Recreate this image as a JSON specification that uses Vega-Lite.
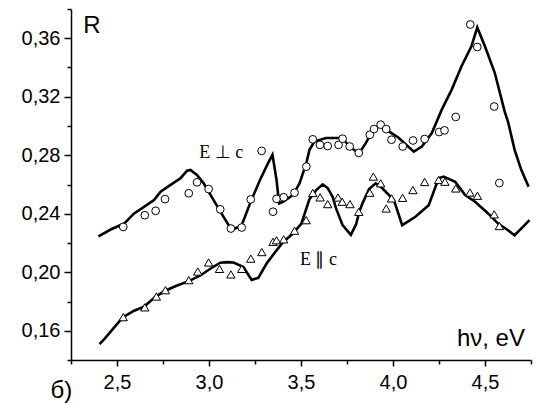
{
  "$schema": "https://vega.github.io/schema/vega-lite/v6.json",
  "width": 460,
  "height": 351,
  "autosize": {"type": "none"},
  "padding": {"left": 71, "top": 9, "right": 11, "bottom": 43},
  "background": "white",
  "config": {"view": {"stroke": null}},
  "datasets": {
    "perp_line": [
      {"x":2.399,"y":0.2246},{"x":2.468,"y":0.2294},{"x":2.539,"y":0.2333},{"x":2.593,"y":0.2402},{"x":2.647,"y":0.2447},{"x":2.701,"y":0.2493},{"x":2.737,"y":0.2551},{"x":2.791,"y":0.2597},{"x":2.845,"y":0.2643},{"x":2.881,"y":0.2695},{"x":2.899,"y":0.2700},{"x":2.935,"y":0.2665},{"x":2.971,"y":0.2608},{"x":3.025,"y":0.2493},{"x":3.079,"y":0.2379},{"x":3.124,"y":0.2287},{"x":3.178,"y":0.2322},{"x":3.223,"y":0.2471},{"x":3.277,"y":0.2631},{"x":3.321,"y":0.2746},{"x":3.345,"y":0.2803},{"x":3.367,"y":0.2631},{"x":3.381,"y":0.2471},{"x":3.402,"y":0.2482},{"x":3.456,"y":0.2528},{"x":3.492,"y":0.2608},{"x":3.529,"y":0.2746},{"x":3.546,"y":0.2837},{"x":3.573,"y":0.2894},{"x":3.636,"y":0.2918},{"x":3.726,"y":0.2918},{"x":3.762,"y":0.2860},{"x":3.816,"y":0.2814},{"x":3.852,"y":0.2883},{"x":3.897,"y":0.2986},{"x":3.933,"y":0.3009},{"x":3.978,"y":0.2963},{"x":4.032,"y":0.2918},{"x":4.113,"y":0.2825},{"x":4.157,"y":0.2860},{"x":4.211,"y":0.2952},{"x":4.265,"y":0.3112},{"x":4.319,"y":0.3249},{"x":4.373,"y":0.3410},{"x":4.427,"y":0.3547},{"x":4.458,"y":0.3674},{"x":4.499,"y":0.3547},{"x":4.553,"y":0.3364},{"x":4.607,"y":0.3098},{"x":4.625,"y":0.3030},{"x":4.661,"y":0.2837},{"x":4.697,"y":0.2700},{"x":4.737,"y":0.2585}
    ],
    "par_line": [
      {"x":2.405,"y":0.1509},{"x":2.431,"y":0.1543},{"x":2.485,"y":0.1623},{"x":2.531,"y":0.1691},{"x":2.593,"y":0.1737},{"x":2.647,"y":0.1765},{"x":2.710,"y":0.1834},{"x":2.764,"y":0.1875},{"x":2.827,"y":0.1909},{"x":2.890,"y":0.1939},{"x":2.953,"y":0.1978},{"x":3.007,"y":0.2024},{"x":3.061,"y":0.2065},{"x":3.097,"y":0.2069},{"x":3.133,"y":0.2067},{"x":3.187,"y":0.2035},{"x":3.232,"y":0.1948},{"x":3.268,"y":0.1962},{"x":3.313,"y":0.2060},{"x":3.367,"y":0.2150},{"x":3.402,"y":0.2205},{"x":3.456,"y":0.2265},{"x":3.502,"y":0.2333},{"x":3.546,"y":0.2500},{"x":3.583,"y":0.2562},{"x":3.618,"y":0.2601},{"x":3.645,"y":0.2576},{"x":3.672,"y":0.2516},{"x":3.690,"y":0.2438},{"x":3.726,"y":0.2322},{"x":3.771,"y":0.2256},{"x":3.800,"y":0.2329},{"x":3.816,"y":0.2411},{"x":3.834,"y":0.2471},{"x":3.870,"y":0.2569},{"x":3.906,"y":0.2608},{"x":3.942,"y":0.2574},{"x":4.005,"y":0.2493},{"x":4.050,"y":0.2322},{"x":4.122,"y":0.2379},{"x":4.194,"y":0.2459},{"x":4.248,"y":0.2643},{"x":4.275,"y":0.2654},{"x":4.338,"y":0.2619},{"x":4.392,"y":0.2528},{"x":4.446,"y":0.2482},{"x":4.517,"y":0.2402},{"x":4.571,"y":0.2333},{"x":4.625,"y":0.2287},{"x":4.661,"y":0.2253},{"x":4.706,"y":0.2310},{"x":4.742,"y":0.2356}
    ],
    "perp_pts": [
      {"x":2.534,"y":0.2310},{"x":2.651,"y":0.2390},{"x":2.710,"y":0.2420},{"x":2.761,"y":0.2500},{"x":2.890,"y":0.2540},{"x":2.935,"y":0.2615},{"x":2.998,"y":0.2569},{"x":3.061,"y":0.2430},{"x":3.119,"y":0.2299},{"x":3.178,"y":0.2306},{"x":3.227,"y":0.2498},{"x":3.286,"y":0.2830},{"x":3.348,"y":0.2414},{"x":3.367,"y":0.2502},{"x":3.406,"y":0.2513},{"x":3.465,"y":0.2544},{"x":3.529,"y":0.2722},{"x":3.564,"y":0.2909},{"x":3.603,"y":0.2871},{"x":3.645,"y":0.2863},{"x":3.704,"y":0.2871},{"x":3.726,"y":0.2913},{"x":3.765,"y":0.2860},{"x":3.814,"y":0.2816},{"x":3.874,"y":0.2940},{"x":3.897,"y":0.2979},{"x":3.933,"y":0.3009},{"x":3.963,"y":0.2979},{"x":3.992,"y":0.2906},{"x":4.053,"y":0.2860},{"x":4.109,"y":0.2901},{"x":4.172,"y":0.2911},{"x":4.251,"y":0.2959},{"x":4.280,"y":0.2970},{"x":4.341,"y":0.3062},{"x":4.420,"y":0.3694},{"x":4.458,"y":0.3540},{"x":4.550,"y":0.3133},{"x":4.578,"y":0.2610}
    ],
    "par_pts": [
      {"x":2.534,"y":0.1693},{"x":2.651,"y":0.1760},{"x":2.714,"y":0.1834},{"x":2.763,"y":0.1877},{"x":2.890,"y":0.1946},{"x":2.939,"y":0.2005},{"x":2.998,"y":0.2067},{"x":3.057,"y":0.2023},{"x":3.119,"y":0.1985},{"x":3.178,"y":0.2023},{"x":3.227,"y":0.2093},{"x":3.287,"y":0.2138},{"x":3.348,"y":0.2208},{"x":3.367,"y":0.2219},{"x":3.406,"y":0.2225},{"x":3.465,"y":0.2284},{"x":3.528,"y":0.2356},{"x":3.564,"y":0.2542},{"x":3.604,"y":0.2512},{"x":3.645,"y":0.2466},{"x":3.701,"y":0.2511},{"x":3.724,"y":0.2482},{"x":3.766,"y":0.2466},{"x":3.814,"y":0.2413},{"x":3.874,"y":0.2544},{"x":3.893,"y":0.2654},{"x":3.933,"y":0.2608},{"x":3.963,"y":0.2436},{"x":3.992,"y":0.2505},{"x":4.052,"y":0.2509},{"x":4.108,"y":0.2562},{"x":4.172,"y":0.2617},{"x":4.248,"y":0.2631},{"x":4.282,"y":0.2619},{"x":4.341,"y":0.2573},{"x":4.418,"y":0.2545},{"x":4.459,"y":0.2523},{"x":4.550,"y":0.2396},{"x":4.578,"y":0.2316}
    ],
    "serif_labels": [
      {"x":3.066,"y":0.278,"t":"E ⊥ c"},
      {"x":3.595,"y":0.2047,"t":"E ∥ c"}
    ],
    "axis_left": [
      {"x":2.3166,"y":0.3639,"t":"R"},
      {"x":2.1386,"y":0.114,"t":"б)"}
    ],
    "axis_right": [
      {"x":4.717,"y":0.1497,"t":"hν, eV"}
    ]
  },
  "encoding": {
    "x": {
      "field": "x", "type": "quantitative",
      "scale": {"domain": [2.25, 4.75], "nice": false, "zero": false},
      "axis": {
        "title": null, "grid": false,
        "values": [2.25, 2.5, 2.75, 3.0, 3.25, 3.5, 3.75, 4.0, 4.25, 4.5, 4.75],
        "labelExpr": "round(datum.value*100) % 50 == 0 ? replace(format(datum.value, '.1f'), '.', ',') : ''",
        "domainColor": "black", "domainWidth": 1.5,
        "tickColor": "black", "tickWidth": 1.5,
        "tickSize": {"condition": {"test": "round(datum.value*100) % 50 == 0", "value": 6}, "value": 4},
        "labelFont": "Liberation Sans", "labelFontSize": 20, "labelColor": "black",
        "labelPadding": 6, "labelFlush": false, "labelOverlap": false
      }
    },
    "y": {
      "field": "y", "type": "quantitative",
      "scale": {"domain": [0.14, 0.38], "nice": false, "zero": false},
      "axis": {
        "title": null, "grid": false,
        "values": [0.14, 0.16, 0.18, 0.2, 0.22, 0.24, 0.26, 0.28, 0.3, 0.32, 0.34, 0.36, 0.38],
        "labelExpr": "round(datum.value*100) % 4 == 0 ? replace(format(datum.value, '.2f'), '.', ',') : ''",
        "domainColor": "black", "domainWidth": 1.5,
        "tickColor": "black", "tickWidth": 1.5,
        "tickSize": {"condition": {"test": "round(datum.value*100) % 4 == 0", "value": 7}, "value": 4},
        "labelFont": "Liberation Sans", "labelFontSize": 20, "labelColor": "black",
        "labelPadding": 4, "labelFlush": false, "labelOverlap": false
      }
    }
  },
  "layer": [
    {"data": {"name": "perp_line"}, "mark": {"type": "line", "color": "black", "strokeWidth": 2.6, "clip": true}},
    {"data": {"name": "par_line"}, "mark": {"type": "line", "color": "black", "strokeWidth": 2.6, "clip": true}},
    {"data": {"name": "perp_pts"}, "mark": {"type": "point", "shape": "circle", "filled": true, "fill": "white", "stroke": "black", "strokeWidth": 1, "size": 60, "opacity": 1}},
    {"data": {"name": "par_pts"}, "mark": {"type": "point", "shape": "triangle-up", "filled": true, "fill": "white", "stroke": "black", "strokeWidth": 1, "size": 70, "opacity": 1}},
    {"data": {"name": "serif_labels"}, "mark": {"type": "text", "font": "Liberation Serif", "fontSize": 18, "align": "center", "baseline": "alphabetic", "color": "black"}, "encoding": {"text": {"field": "t"}}},
    {"data": {"name": "axis_left"}, "mark": {"type": "text", "font": "Liberation Sans", "fontSize": 24, "align": "left", "baseline": "alphabetic", "color": "black"}, "encoding": {"text": {"field": "t"}}},
    {"data": {"name": "axis_right"}, "mark": {"type": "text", "font": "Liberation Sans", "fontSize": 24, "align": "right", "baseline": "alphabetic", "color": "black"}, "encoding": {"text": {"field": "t"}}}
  ]
}
